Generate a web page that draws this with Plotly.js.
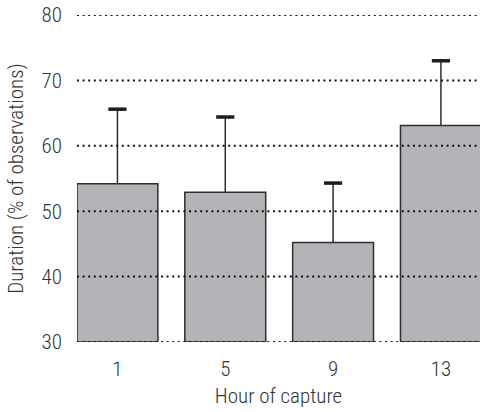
<!DOCTYPE html>
<html>
<head>
<meta charset="utf-8">
<script src="https://cdn.plot.ly/plotly-3.0.1.min.js"></script>
<style>
html,body{margin:0;padding:0;background:#fff;}
#chart{width:480px;height:412px;}
#chart text{font-stretch:75% !important;}
</style>
</head>
<body>
<div id="chart"></div>
<script>
// Data
const hours = [1, 5, 9, 13];
const hourLabels = ['1', '5', '9', '13'];
const duration = [54.2, 52.9, 45.2, 63.1];
const errorPlus = [11.4, 11.5, 9.1, 9.9];
const yTicks = [30, 40, 50, 60, 70, 80];

const baseVal = 30;
const textColor = '#333333';
const font = {family: '"Roboto Condensed", Roboto, sans-serif', size: 21, weight: 300, color: textColor};

const barTrace = {
  type: 'bar',
  x: hours,
  y: duration.map(v => v - baseVal),
  base: baseVal,
  width: 3,
  marker: {color: '#b3b4b7', line: {color: '#2e2e2e', width: 1.5}},
  error_y: {type: 'data', symmetric: false, array: errorPlus, arrayminus: errorPlus.map(() => 0),
            color: '#2e2e2e', thickness: 1.5, width: 0},
  hoverinfo: 'none',
  showlegend: false
};

const capTrace = {
  type: 'scatter',
  mode: 'markers',
  x: hours,
  y: duration.map((v, i) => v + errorPlus[i]),
  marker: {symbol: 'line-ew', size: 13, line: {color: '#1e1e1e', width: 3.5}},
  hoverinfo: 'none',
  showlegend: false,
  cliponaxis: false
};

const gridShapes = yTicks.map(t => ({
  type: 'line', xref: 'paper', yref: 'y', x0: 0, x1: 1, y0: t, y1: t,
  layer: 'above',
  line: {color: '#111111', width: 2, dash: '2px,3.6px'}
}));

const layout = {
  width: 480, height: 412,
  margin: {l: 77, r: 0, t: 15, b: 70, pad: 0},
  paper_bgcolor: '#ffffff', plot_bgcolor: '#ffffff',
  font: font,
  showlegend: false,
  xaxis: {
    range: [-0.5, 14.45],
    tickvals: hours, ticktext: hourLabels,
    showgrid: false, zeroline: false, showline: false, ticks: '',
    ticklabelstandoff: 12,
    tickfont: font,
    title: {text: 'Hour of capture', font: font, standoff: 8}
  },
  yaxis: {
    range: [30, 80],
    tickvals: yTicks,
    showgrid: false, zeroline: false, showline: false, ticks: '',
    ticklabelstandoff: 14,
    tickfont: font,
    title: {text: 'Duration (% of observations)', font: font, standoff: 12}
  },
  shapes: gridShapes
};

Plotly.newPlot('chart', [barTrace, capTrace], layout, {displayModeBar: false, staticPlot: true});
</script>
</body>
</html>
